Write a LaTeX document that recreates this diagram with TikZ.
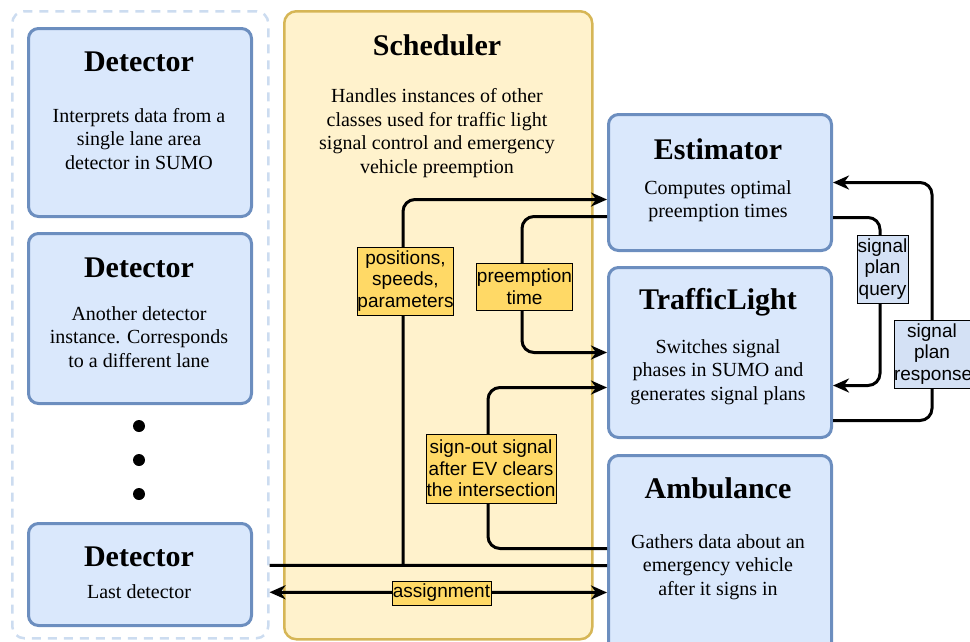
\documentclass[tikz,border=0pt]{standalone}
\usepackage{fontspec}
\setmainfont{Liberation Serif}
\newfontfamily\labelfont{Liberation Sans}
\usetikzlibrary{arrows.meta}
\definecolor{boxfill}{HTML}{DAE8FC}
\definecolor{boxdraw}{HTML}{6C8EBF}
\definecolor{schedfill}{HTML}{FFF2CC}
\definecolor{scheddraw}{HTML}{D6B656}
\definecolor{lblfill}{HTML}{FFD966}
\definecolor{lblblue}{HTML}{D4E1F5}
\definecolor{groupdraw}{HTML}{CCDCF0}
\tikzset{
  cls/.style={draw=boxdraw, fill=boxfill, line width=3pt, rounded corners=10pt, inner sep=0pt, anchor=north west},
  ttl/.style={font=\fontsize{30}{34}\selectfont\bfseries},
  body/.style={font=\fontsize{20}{23.5}\selectfont, align=center},
  conn/.style={line width=3pt, rounded corners=12pt},
  arr/.style={conn, -{Stealth[length=16pt,width=14pt,inset=5pt]}},
  darr/.style={conn, {Stealth[length=16pt,width=14pt,inset=5pt]}-{Stealth[length=16pt,width=14pt,inset=5pt]}},
  lbl/.style={draw=black, line width=1pt, fill=lblfill, font=\labelfont\fontsize{19}{21.5}\selectfont, align=center, inner sep=0pt},
  lblb/.style={lbl, fill=lblblue},
}
\begin{document}
\begin{tikzpicture}[x=1pt,y=-1pt]
\useasboundingbox (0,0) rectangle (970,641);
\clip (0,0) rectangle (970,641);
% containers
\node[draw=groupdraw, line width=2.5pt, dash pattern=on 9pt off 7pt, rounded corners=12pt, inner sep=0pt, anchor=north west, minimum width=256pt, minimum height=627pt] (grp) at (11,10) {};
\node[draw=scheddraw, fill=schedfill, line width=2.5pt, rounded corners=12pt, inner sep=0pt, anchor=north west, minimum width=308pt, minimum height=628pt] (sched) at (283,10) {};
% class boxes
\node[cls, minimum width=223pt, minimum height=188pt] (det1) at (27,27) {};
\node[cls, minimum width=223pt, minimum height=170pt] (det2) at (27,232) {};
\node[cls, minimum width=223pt, minimum height=102pt] (det3) at (27,522) {};
\node[cls, minimum width=223pt, minimum height=136pt] (est) at (607,113) {};
\node[cls, minimum width=223pt, minimum height=170pt] (tl) at (607,266) {};
\node[cls, minimum width=223pt, minimum height=206pt] (amb) at (607,454) {};
% texts
\node[ttl] (det1t) at (139,62) {Detector};
\node[body] (det1b) at (139,139) {Interprets data from a\\single lane area\\detector in SUMO};
\node[ttl] (det2t) at (139,268) {Detector};
\node[body] (det2b) at (139,337) {Another detector\\instance. Corresponds\\to a different lane};
\node[ttl] (det3t) at (139,557) {Detector};
\node[body] (det3b) at (139,592) {Last detector};
\fill (139,426) circle (6pt) (139,460) circle (6pt) (139,494) circle (6pt);
\node[ttl] (schedt) at (437,45) {Scheduler};
\node[body] (schedb) at (437,133) {Handles instances of other\\classes used for traffic light\\signal control and emergency\\vehicle preemption};
\node[ttl] (estt) at (718,149) {Estimator};
\node[body] (estb) at (718,201) {Computes optimal\\preemption times};
\node[ttl] (tlt) at (718,302) {TrafficLight};
\node[body] (tlb) at (718,372) {Switches signal\\phases in SUMO and\\generates signal plans};
\node[ttl] (ambt) at (718,488) {Ambulance};
\node[body] (ambb) at (718,567) {Gathers data about an\\emergency vehicle\\after it signs in};
% connectors
\coordinate (j) at (403,564);
\draw[conn] ([yshift=-240.5pt]grp.east) -- ([yshift=-7pt]amb.west);
\draw[arr] (j) |- ([yshift=-17pt]est.west);
\draw[arr] ([yshift=-34pt]est.west) -| (522,283) |- (tl.west);
\draw[arr] ([yshift=10pt]amb.west) -| (488,460) |- ([yshift=-35pt]tl.west);
\draw[darr] ([yshift=-267.5pt]grp.east) -- ([yshift=-34pt]amb.west);
\draw[arr] ([yshift=-35pt]est.east) -| (880,300) |- ([yshift=-33pt]tl.east);
\draw[arr] ([yshift=-68pt]tl.east) -| (932,300) |- (est.east);
% labels
\node[lbl, minimum width=95pt, minimum height=68pt] (lpos) at (405.5,281) {positions,\\speeds,\\parameters};
\node[lbl, minimum width=95pt, minimum height=47pt] (lpre) at (524.5,286.5) {preemption\\time};
\node[lbl, minimum width=130pt, minimum height=69pt] (lsign) at (491,468.5) {sign-out signal\\after EV clears\\the intersection};
\node[lbl, minimum width=99pt, minimum height=24pt] (lass) at (441.5,593) {assignment};
\node[lblb, minimum width=51pt, minimum height=68pt, text width=51pt] (lq) at (882.5,269) {signal\\plan\\query};
\node[lblb, minimum width=76pt, minimum height=68pt, text width=76pt] (lr) at (932,354) {signal\\plan\\response};
\end{tikzpicture}
\end{document}
